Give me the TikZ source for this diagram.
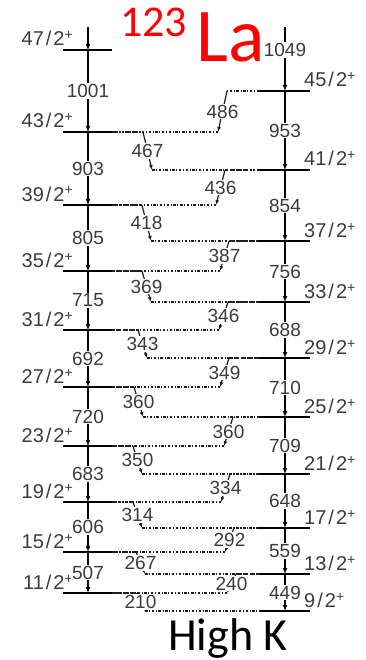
\documentclass[tikz,border=0pt]{standalone}
\usepackage{fontspec}
\setmainfont{Liberation Sans}
\newfontfamily\titlefont{Carlito}
\usetikzlibrary{arrows.meta,calc}
\newcommand\plussup{\raisebox{6pt}{\fontsize{14}{14}\selectfont +}}
\newcommand\spintxt[1]{#1\kern2pt/\kern2pt2\plussup}
\definecolor{txtgray}{RGB}{60,60,60}
\definecolor{dotgray}{RGB}{30,30,30}
\begin{document}
\begin{tikzpicture}[x=1pt,y=-1pt,
  lvl/.style={line width=1.6pt},
  band/.style={line width=1.8pt,-{Latex[length=6pt,width=5pt]}},
  gam/.style={line width=1.2pt,dotgray,-{Latex[length=5pt,width=4pt]}},
  dotl/.style={line width=1.3pt,dotgray,dash pattern=on 2.5pt off 1.6pt on 1pt off 1.6pt},
  num/.style={fill=white,inner sep=1pt,font=\fontsize{19}{19}\selectfont,text=txtgray},
  spin/.style={font=\fontsize{20}{20}\selectfont,text=txtgray,inner sep=0pt},
]
\useasboundingbox (0,0) rectangle (365,660);

% ---------- levels, left band ----------
\foreach \y/\s in {50/47,132/43,205/39,271/35,330/31,387/27,446/23,502/19,552/15,593/11}{
  \draw[lvl] (63,\y) coordinate (Ls\s) -- (112,\y) coordinate (Le\s);
  \coordinate (Lc\s) at (88,\y);
  \node[spin,anchor=base east] (Lsp\s) at (73,\y-4) {\spintxt{\s}};
}
% ---------- levels, right band ----------
\foreach \y/\s in {91/45,170/41,241/37,302/33,358/29,417/25,474/21,528/17,574/13,611/9}{
  \draw[lvl] (259,\y) coordinate (Rs\s) -- (310,\y) coordinate (Re\s);
  \coordinate (Rc\s) at (285,\y);
  \node[spin,anchor=base west] (Rsp\s) at (304,\y-4) {\spintxt{\s}};
}

% ---------- inter-band transitions (lines) ----------
\foreach \yr/\yl/\lx/\e [count=\i] in {91/132/222/486,170/205/220/436,241/271/224/387,
  302/330/223/346,358/387/224/349,417/446/228/360,474/502/225/334,528/552/229/292,574/593/231/240}{
  \coordinate (rlA\i) at (\lx+5,\yr);
  \coordinate (rlB\i) at (\lx-4,\yl);
  \coordinate (rlS\i) at (259,\yr);
  \coordinate (rlE\i) at (112,\yl);
  \draw[dotl] (rlS\i) -- (rlA\i);
  \draw[gam] (rlA\i) -- (rlB\i);
  \draw[dotl] (rlB\i) -- (rlE\i);
}
\foreach \yl/\yr/\lx/\e [count=\i] in {132/170/148/467,205/241/147/418,271/302/147/369,
  330/358/143/343,387/417/139/360,446/474/138/350,502/528/138/314,552/574/141/267,593/611/141/210}{
  \coordinate (lrA\i) at (\lx-5,\yl);
  \coordinate (lrB\i) at (\lx+4,\yr);
  \coordinate (lrS\i) at (112,\yl);
  \coordinate (lrE\i) at (259,\yr);
  \draw[dotl] (lrS\i) -- (lrA\i);
  \draw[gam] (lrA\i) -- (lrB\i);
  \draw[dotl] (lrB\i) -- (lrE\i);
}

% ---------- in-band transitions ----------
\coordinate (Ltop) at (88,27);
\coordinate (Rtop) at (285,27);
\draw[band] (Ltop) -- (Lc47);
\foreach \a/\b/\e in {47/43/1001,43/39/903,39/35/805,35/31/715,31/27/692,27/23/720,23/19/683,19/15/606,15/11/507}{
  \draw[band] (Lc\a) -- node[num] (Lg\e) {\e} (Lc\b);
}
\draw[band] (Rtop) -- node[num,pos=0.36] (Rg1049) {1049} (Rc45);
\foreach \a/\b/\e in {45/41/953,41/37/854,37/33/756,33/29/688,29/25/710,25/21/709,21/17/648,17/13/559,13/9/449}{
  \draw[band] (Rc\a) -- node[num] (Rg\e) {\e} (Rc\b);
}

% ---------- inter-band labels (on top) ----------
\foreach \e [count=\i] in {486,436,387,346,349,360,334,292,240}{
  \node[num] (rlL\i) at ($(rlA\i)!0.5!(rlB\i)$) {\e};
}
\foreach \e [count=\i] in {467,418,369,343,360,350,314,267,210}{
  \node[num] (lrL\i) at ($(lrA\i)!0.5!(lrB\i)$) {\e};
}

% ---------- titles ----------
\node[anchor=base west,inner sep=0pt,text=red] (title) at (120,62)
  {\titlefont\raisebox{25pt}{\fontsize{44}{44}\selectfont 123}\kern9pt{\fontsize{76}{76}\selectfont La}};
\node[anchor=base west,inner sep=0pt] (highk) at (168,650)
  {\titlefont\fontsize{46}{46}\selectfont High K};
\end{tikzpicture}
\end{document}
